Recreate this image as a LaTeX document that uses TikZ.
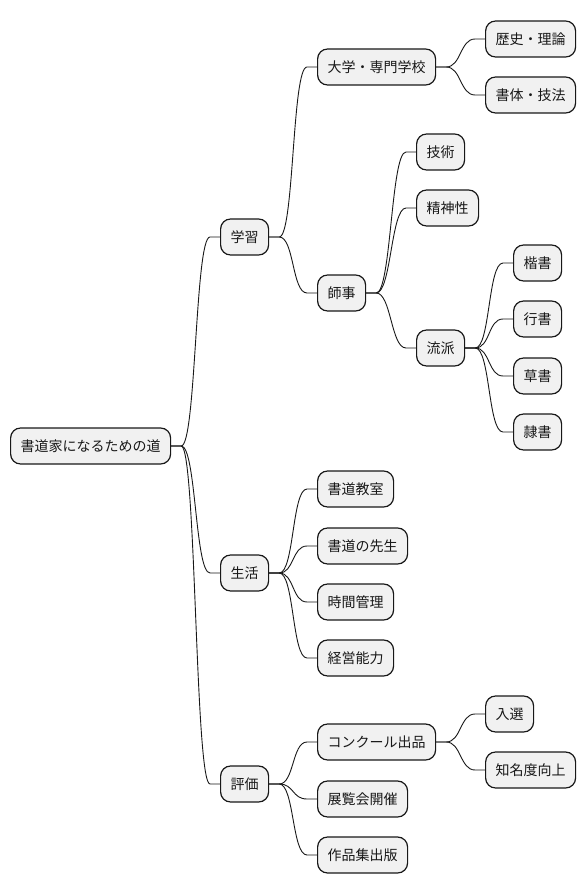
\documentclass[tikz,border=0pt]{standalone}
\usepackage{fontspec}
\newfontfamily\cjk{Noto Sans CJK JP}
\definecolor{boxfill}{HTML}{F1F1F1}
\definecolor{ink}{HTML}{181818}
\begin{document}
\begin{tikzpicture}[x=1pt,y=-1pt,
  mm/.style={draw=ink, line width=1.2pt, fill=boxfill, rounded corners=10pt,
    minimum height=36pt, inner xsep=10pt, inner ysep=0pt, anchor=west,
    font=\cjk\fontsize{14}{16}\selectfont, text=ink},
  link/.style={draw=ink, line width=0.9pt}]
\useasboundingbox (0,0) rectangle (586,893);
\newcommand{\conn}[2]{\draw[link] (#1.east) -- ++(10,0) .. controls +(15,0) and +(-15,0) .. ([xshift=-10pt]#2.west) -- (#2.west);}
\node[mm] (root) at (10,446) {書道家になるための道};
\node[mm] (gak) at (220,237) {学習};
\node[mm] (sei) at (220,573) {生活};
\node[mm] (hyo) at (220,784) {評価};
\node[mm] (dai) at (317,67) {大学・専門学校};
\node[mm] (shi) at (317,293) {師事};
\node[mm] (kyo) at (317,489) {書道教室};
\node[mm] (sen) at (317,546) {書道の先生};
\node[mm] (jik) at (317,602) {時間管理};
\node[mm] (kei) at (317,658) {経営能力};
\node[mm] (con) at (317,742) {コンクール出品};
\node[mm] (ten) at (317,799) {展覧会開催};
\node[mm] (sak) at (317,855) {作品集出版};
\node[mm] (rek) at (485,39) {歴史・理論};
\node[mm] (sho) at (485,95) {書体・技法};
\node[mm] (gij) at (416,152) {技術};
\node[mm] (shn) at (416,208) {精神性};
\node[mm] (ryu) at (416,348) {流派};
\node[mm] (nyu) at (485,714) {入選};
\node[mm] (chi) at (485,770) {知名度向上};
\node[mm] (kai) at (513,263) {楷書};
\node[mm] (gyo) at (513,319) {行書};
\node[mm] (sos) at (513,376) {草書};
\node[mm] (rei) at (513,432) {隷書};
\conn{root}{gak}\conn{root}{sei}\conn{root}{hyo}
\conn{gak}{dai}\conn{gak}{shi}
\conn{dai}{rek}\conn{dai}{sho}
\conn{shi}{gij}\conn{shi}{shn}\conn{shi}{ryu}
\conn{ryu}{kai}\conn{ryu}{gyo}\conn{ryu}{sos}\conn{ryu}{rei}
\conn{sei}{kyo}\conn{sei}{sen}\conn{sei}{jik}\conn{sei}{kei}
\conn{hyo}{con}\conn{hyo}{ten}\conn{hyo}{sak}
\conn{con}{nyu}\conn{con}{chi}
\end{tikzpicture}
\end{document}
